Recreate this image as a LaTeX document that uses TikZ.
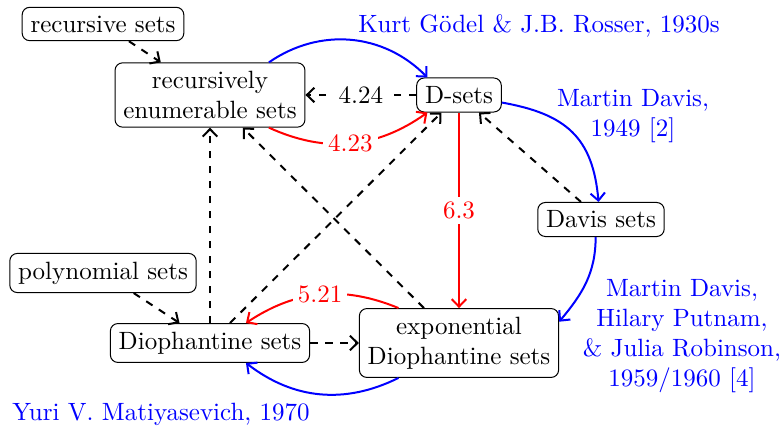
\documentclass[tikz,border=0pt]{standalone}
\usetikzlibrary{arrows.meta}
\begin{document}
\begin{tikzpicture}[x=0.4pt,y=0.4pt,>={Straight Barb[length=3pt,width=5.8pt]},
  box/.style={draw, rounded corners=3pt, align=center},
  edge/.style={thick,->},
  dedge/.style={thick,->,dashed},
  note/.style={text=blue, align=center},
  lbl/.style={fill=white, inner sep=2pt}]
\useasboundingbox (0,0) rectangle (782,426);
% nodes
\node[box] (rec) at (103,402) {recursive sets};
\node[box] (re) at (210,331) {recursively\\enumerable sets};
\node[box] (D) at (459,331) {D-sets};
\node[box] (davis) at (601,206.5) {Davis sets};
\node[box] (poly) at (103,153) {polynomial sets};
\node[box] (dioph) at (210,83) {Diophantine sets};
\node[box] (exp) at (459,83) {exponential\\Diophantine sets};
% notes
\node[note] (kg) at (539,400) {Kurt G\"odel \& J.B. Rosser, 1930s};
\node[note] (md) at (633,310) {Martin Davis,\\1949 [2]};
\node[note] (mdhp) at (682,90) {Martin Davis,\\Hilary Putnam,\\\& Julia Robinson,\\1959/1960 [4]};
\node[note] (ym) at (161,12) {Yuri V. Matiyasevich, 1970};
% dashed implications
\draw[dedge] (rec) -- (re);
\draw[dedge] (poly) -- (dioph);
\draw[dedge] (dioph) -- (re);
\draw[dedge] (dioph) -- (D);
\draw[dedge] (exp) -- (re);
\draw[dedge] (davis) -- (D);
\draw[dedge] (dioph) -- (exp);
\draw[dedge] (D) -- node[lbl, text=black] (l424) {4.24} (re);
% red
\draw[edge, red] (re.-29) to[bend right=30] node[lbl] (l423) {4.23} (D.-151);
\draw[edge, red] (D) -- node[lbl] (l63) {6.3} (exp);
\draw[edge, red] (exp.150) to[bend right=28] node[lbl] (l521) {5.21} (dioph.29);
% blue
\draw[edge, blue] (re.29) to[bend left=40] (D.151);
\draw[edge, blue] (D.-10) to[out=-10,in=95,looseness=1.2] (davis.98);
\draw[edge, blue] (davis.-107) to[out=-90,in=50] (exp.12);
\draw[edge, blue] (exp.-150) to[bend left=32] (dioph.-29);
\end{tikzpicture}
\end{document}
